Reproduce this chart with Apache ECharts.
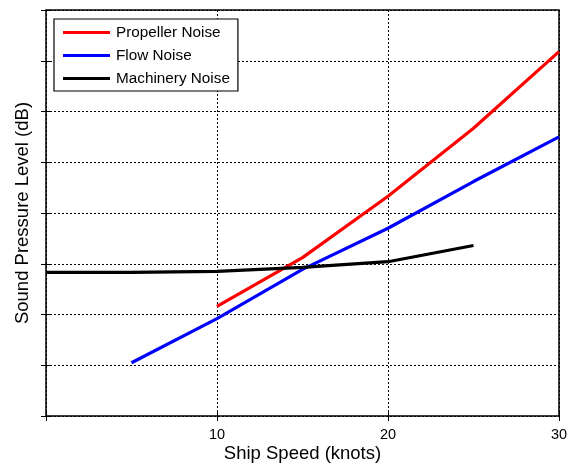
<!DOCTYPE html>
<html>
<head>
<meta charset="utf-8">
<script src="https://cdn.jsdelivr.net/npm/echarts@6/dist/echarts.min.js"></script>
<style>
html,body{margin:0;padding:0;background:#fff;}
#chart{width:571px;height:463px;}
</style>
</head>
<body>
<div id="chart"></div>
<script>
var propellerSpeed = [10, 15, 20, 25, 30];
var propellerNoise = [2.16, 3.12, 4.33, 5.67, 7.18];
var flowSpeed = [5, 10, 15, 20, 25, 30];
var flowNoise = [1.05, 1.92, 2.89, 3.70, 4.62, 5.50];
var machinerySpeed = [0, 5, 10, 15, 20, 25];
var machineryNoise = [2.83, 2.83, 2.85, 2.93, 3.04, 3.36];
var xTicks = [10, 20, 30];

function zip(xs, ys){ return xs.map(function(x,i){ return [x, ys[i]]; }); }

var FONT = '"Liberation Sans", Arial, sans-serif';
var chart = echarts.init(document.getElementById('chart'));
var dotted = { color: '#000', width: 1, type: [2, 2] };

chart.setOption({
  animation: false,
  backgroundColor: '#fff',
  textStyle: { fontFamily: FONT },
  grid: { left: 46, top: 10, right: 12, bottom: 47, show: true, borderColor: '#000', borderWidth: 1.5,
    backgroundColor: 'transparent', containLabel: false, outerBoundsMode: 'none' },
  legend: {
    orient: 'vertical', left: 54, top: 19,
    backgroundColor: '#fff',
    borderColor: '#000', borderWidth: 1.2, borderRadius: 0,
    padding: [6, 8, 5, 9],
    itemWidth: 47, itemHeight: 3, itemGap: 8,
    icon: 'rect',
    textStyle: { fontFamily: FONT, fontSize: 15.3, color: '#000', padding: [0, 0, 0, 1] },
    data: ['Propeller Noise', 'Flow Noise', 'Machinery Noise']
  },
  xAxis: [{
    type: 'value', min: 0, max: 30, interval: 10,
    axisLine: { show: false },
    axisTick: { show: true, inside: true, length: 5, lineStyle: { color: '#000', width: 1 } },
    axisLabel: { color: '#000', fontSize: 14.5, fontFamily: FONT, margin: 11,
      formatter: function(v){ return xTicks.indexOf(v) >= 0 ? String(v) : ''; } },
    splitLine: { show: true, lineStyle: dotted },
    name: 'Ship Speed (knots)', nameLocation: 'middle', nameGap: 28, nameMoveOverlap: false,
    nameTextStyle: { color: '#000', fontSize: 18.5, fontFamily: FONT }
  }, {
    type: 'value', min: 0, max: 30, interval: 10, position: 'top',
    axisLine: { show: false },
    axisTick: { show: true, inside: true, length: 5, lineStyle: { color: '#000', width: 1 } },
    axisLabel: { show: false }, splitLine: { show: false }
  }],
  yAxis: [{
    type: 'value', min: 0, max: 8, interval: 1,
    axisLine: { show: false },
    axisTick: { show: true, inside: true, length: 5, lineStyle: { color: '#000', width: 1 } },
    axisLabel: { show: false },
    splitLine: { show: true, lineStyle: dotted },
    name: 'Sound Pressure Level (dB)', nameLocation: 'middle', nameGap: 14, nameMoveOverlap: false,
    nameTextStyle: { color: '#000', fontSize: 18.5, fontFamily: FONT }
  }, {
    type: 'value', min: 0, max: 8, interval: 1, position: 'right',
    axisLine: { show: false },
    axisTick: { show: true, inside: true, length: 5, lineStyle: { color: '#000', width: 1 } },
    axisLabel: { show: false }, splitLine: { show: false }
  }],
  series: [
    { name: 'Propeller Noise', type: 'line', symbol: 'none', data: zip(propellerSpeed, propellerNoise),
      itemStyle: { color: '#ff0000' }, lineStyle: { color: '#ff0000', width: 3.2 }, z: 3 },
    { name: 'Flow Noise', type: 'line', symbol: 'none', data: zip(flowSpeed, flowNoise),
      itemStyle: { color: '#0000ff' }, lineStyle: { color: '#0000ff', width: 3.2 }, z: 3 },
    { name: 'Machinery Noise', type: 'line', symbol: 'none', data: zip(machinerySpeed, machineryNoise),
      itemStyle: { color: '#000' }, lineStyle: { color: '#000', width: 3.2 }, z: 3 }
  ]
});
</script>
</body>
</html>
